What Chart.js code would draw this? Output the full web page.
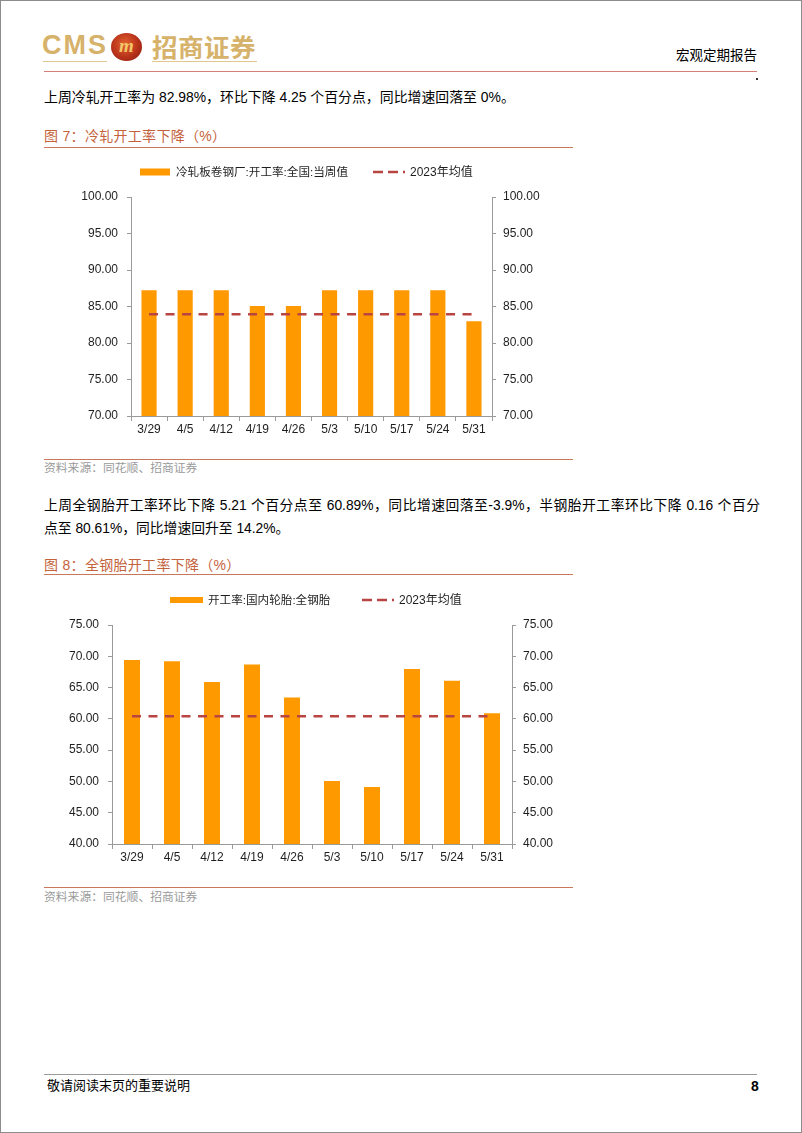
<!DOCTYPE html>
<html lang="zh-CN">
<head>
<meta charset="utf-8">
<title>宏观定期报告</title>
<script src="https://cdn.jsdelivr.net/npm/chart.js@4.4.1/dist/chart.umd.min.js"></script>
<style>
  html, body { margin:0; padding:0; background:#fff; }
  body { width:802px; height:1133px; position:relative; overflow:hidden;
         font-family:"Liberation Sans","Noto Sans CJK SC",sans-serif; color:#000; }
  .frame { position:absolute; left:0; top:0; width:800px; height:1131px; border:1px solid #8c8c8c; }
  .abs { position:absolute; white-space:nowrap; }
  .gold { color:#D6B26A; font-weight:bold; }
  .hline { position:absolute; height:0; }
  canvas { position:absolute; }
</style>
</head>
<body>
<div class="frame"></div>

<!-- header -->
<div class="abs gold" style="left:42px;top:30px;font-size:27px;line-height:30px;letter-spacing:2px;font-family:'Liberation Sans';">CMS</div>
<div class="abs" style="left:111px;top:33px;width:31px;height:28px;border-radius:50%;background:radial-gradient(circle at 45% 40%,#E4622E 0%,#B8321A 55%,#7E1A0E 100%);"></div>
<div class="abs" style="left:111px;top:35px;width:31px;text-align:center;font:italic bold 19px/22px 'Liberation Serif';color:#F2C76A;">m</div>
<div class="abs gold" style="left:152px;top:32px;font-size:25.5px;line-height:28px;letter-spacing:0.5px;font-family:'Noto Sans CJK SC';">招商证券</div>
<div class="hline" style="left:43px;top:61px;width:64px;border-top:1.5px solid #E0C78E;"></div>
<div class="hline" style="left:152px;top:61px;width:105px;border-top:1.5px solid #E0C78E;"></div>
<div class="abs" style="left:676px;top:49px;font-size:13.5px;line-height:14px;">宏观定期报告</div>
<div class="hline" style="left:44px;top:71px;width:713px;border-top:1.5px solid #D47E78;"></div>
<div class="abs" style="left:756px;top:78px;width:2px;height:2px;background:#333;"></div>

<!-- paragraph 1 -->
<div class="abs" style="left:44px;top:90px;font-size:13.9px;line-height:14px;">上周冷轧开工率为 82.98%，环比下降 4.25 个百分点，同比增速回落至 0%。</div>

<!-- figure 7 -->
<div class="abs" style="left:44px;top:129px;font-size:14px;line-height:14px;color:#C4623C;letter-spacing:0.3px;">图 7：冷轧开工率下降（%）</div>
<div class="hline" style="left:44px;top:147px;width:529px;border-top:1.5px solid #C9775A;"></div>
<canvas id="c1" width="540" height="290" style="left:40px;top:155px;width:540px;height:290px;"></canvas>
<div class="hline" style="left:44px;top:459px;width:529px;border-top:1.5px solid #C9775A;"></div>
<div class="abs" style="left:44px;top:462px;font-size:11.8px;line-height:12px;color:#9a9a9a;">资料来源：同花顺、招商证券</div>

<!-- paragraph 2 -->
<div class="abs" style="left:44px;top:494px;width:716px;font-size:13.8px;line-height:23px;white-space:normal;">
  <div style="text-align:justify;text-align-last:justify;">上周全钢胎开工率环比下降 5.21 个百分点至 60.89%，同比增速回落至-3.9%，半钢胎开工率环比下降 0.16 个百分</div>
  <div>点至 80.61%，同比增速回升至 14.2%。</div>
</div>

<!-- figure 8 -->
<div class="abs" style="left:44px;top:558px;font-size:14px;line-height:14px;color:#C4623C;letter-spacing:0.3px;">图 8：全钢胎开工率下降（%）</div>
<div class="hline" style="left:44px;top:574px;width:529px;border-top:1.5px solid #C9775A;"></div>
<canvas id="c2" width="540" height="290" style="left:40px;top:585px;width:540px;height:290px;"></canvas>
<div class="hline" style="left:44px;top:887px;width:529px;border-top:1.5px solid #C9775A;"></div>
<div class="abs" style="left:44px;top:891px;font-size:11.8px;line-height:12px;color:#9a9a9a;">资料来源：同花顺、招商证券</div>

<!-- footer -->
<div class="hline" style="left:44px;top:1074px;width:713px;border-top:1px solid #9a9a9a;"></div>
<div class="abs" style="left:47px;top:1079px;font-size:13px;line-height:14px;">敬请阅读末页的重要说明</div>
<div class="abs" style="left:751px;top:1079px;font-size:14px;line-height:14px;font-weight:bold;">8</div>

<script>
// ---------------- data ----------------
const categories = ['3/29', '4/5', '4/12', '4/19', '4/26', '5/3', '5/10', '5/17', '5/24', '5/31'];

const coldRolledLabel = '冷轧板卷钢厂:开工率:全国:当周值';
const coldRolledRate = [87.23, 87.23, 87.23, 85.07, 85.07, 87.23, 87.23, 87.23, 87.23, 82.98];
const coldRolledAvgLabel = '2023年均值';
const coldRolledAvg2023 = [83.93, 83.93, 83.93, 83.93, 83.93, 83.93, 83.93, 83.93, 83.93, 83.93];
const coldAxisMin = 70, coldAxisMax = 100, coldAxisStep = 5;

const tireLabel = '开工率:国内轮胎:全钢胎';
const tireRate = [69.40, 69.20, 65.90, 68.70, 63.40, 50.05, 49.10, 67.95, 66.10, 60.89];
const tireAvgLabel = '2023年均值';
const tireAvg2023 = [60.40, 60.40, 60.40, 60.40, 60.40, 60.40, 60.40, 60.40, 60.40, 60.40];
const tireAxisMin = 40, tireAxisMax = 75, tireAxisStep = 5;

// ---------------- styles ----------------
const FONT = "'Liberation Sans','Noto Sans CJK SC',sans-serif";
const BAR_COLOR = '#FF9900';
const AVG_COLOR = '#B94542';
const AXIS_COLOR = '#9a9a9a';
const TEXT_COLOR = '#1e1e1e';

const pageLegend = {
  id: 'pageLegend',
  afterDraw(chart, args, opts) {
    const ctx = chart.ctx;
    ctx.save();
    ctx.textBaseline = 'middle';
    opts.items.forEach(it => {
      const ds = chart.data.datasets[it.dataset];
      if (it.kind === 'box') {
        ctx.fillStyle = ds.backgroundColor;
        ctx.fillRect(it.x, opts.y - it.h / 2, it.w, it.h);
      } else {
        ctx.strokeStyle = ds.borderColor;
        ctx.lineWidth = ds.borderWidth;
        ctx.setLineDash(it.dash);
        ctx.beginPath();
        ctx.moveTo(it.x, opts.y);
        ctx.lineTo(it.x + it.w, opts.y);
        ctx.stroke();
        ctx.setLineDash([]);
      }
      ctx.font = (it.size || 12) + 'px ' + FONT;
      ctx.fillStyle = TEXT_COLOR;
      ctx.fillText(ds.label, it.x + it.w + it.gap, opts.y + 0.5);
    });
    ctx.restore();
  }
};

function yAxis(pos, min, max, step, width, pad) {
  return {
    position: pos,
    min: min, max: max,
    border: { color: AXIS_COLOR, width: 1 },
    grid: { drawOnChartArea: false, drawTicks: true, tickLength: 4, color: AXIS_COLOR },
    ticks: { stepSize: step, padding: pad, color: TEXT_COLOR, font: { family: FONT, size: 12 },
             callback: v => Number(v).toFixed(2) },
    afterFit(s) { s.width = width; }
  };
}

function makeChart(id, cfg) {
  return new Chart(document.getElementById(id), {
    type: 'bar',
    data: {
      labels: categories,
      datasets: [
        { type: 'bar', label: cfg.barLabel, data: cfg.bars, backgroundColor: BAR_COLOR,
          barPercentage: cfg.barPct, categoryPercentage: 1.0, yAxisID: 'y', order: 2 },
        { type: 'line', label: cfg.avgLabel, data: cfg.avg, borderColor: AVG_COLOR, backgroundColor: AVG_COLOR,
          borderWidth: 2.5, borderDash: [9, 7.5], pointRadius: 0, fill: false, yAxisID: 'y', order: 1 }
      ]
    },
    options: {
      responsive: false,
      animation: false,
      layout: { padding: { top: cfg.top, left: 0, right: 0, bottom: 0 } },
      plugins: {
        legend: { display: false },
        tooltip: { enabled: false },
        pageLegend: cfg.legend
      },
      scales: {
        x: {
          offset: true,
          border: { color: AXIS_COLOR, width: 1 },
          grid: { offset: true, drawOnChartArea: false, drawTicks: true, tickLength: 5, color: AXIS_COLOR },
          ticks: { padding: 1, color: TEXT_COLOR, font: { family: FONT, size: 12 }, maxRotation: 0, autoSkip: false },
          afterFit(s) { s.height = cfg.xHeight; }
        },
        y: yAxis('left', cfg.min, cfg.max, cfg.step, cfg.leftW, 9),
        y2: yAxis('right', cfg.min, cfg.max, cfg.step, cfg.rightW, 7)
      }
    },
    plugins: [pageLegend]
  });
}

makeChart('c1', {
  barLabel: coldRolledLabel, bars: coldRolledRate,
  avgLabel: coldRolledAvgLabel, avg: coldRolledAvg2023,
  min: coldAxisMin, max: coldAxisMax, step: coldAxisStep,
  barPct: 0.42, top: 42, leftW: 91, rightW: 88, xHeight: 29,
  legend: { y: 17, items: [
    { dataset: 0, kind: 'box', x: 100, w: 30, h: 7, gap: 6, size: 11.6 },
    { dataset: 1, kind: 'line', x: 333, w: 32, gap: 5, dash: [10, 5], size: 12 }
  ] }
});

makeChart('c2', {
  barLabel: tireLabel, bars: tireRate,
  avgLabel: tireAvgLabel, avg: tireAvg2023,
  min: tireAxisMin, max: tireAxisMax, step: tireAxisStep,
  barPct: 0.40, top: 40, leftW: 72, rightW: 68, xHeight: 31,
  legend: { y: 15, items: [
    { dataset: 0, kind: 'box', x: 130, w: 33, h: 6, gap: 5, size: 11.6 },
    { dataset: 1, kind: 'line', x: 322, w: 32, gap: 5, dash: [10, 5], size: 12 }
  ] }
});
</script>
</body>
</html>
